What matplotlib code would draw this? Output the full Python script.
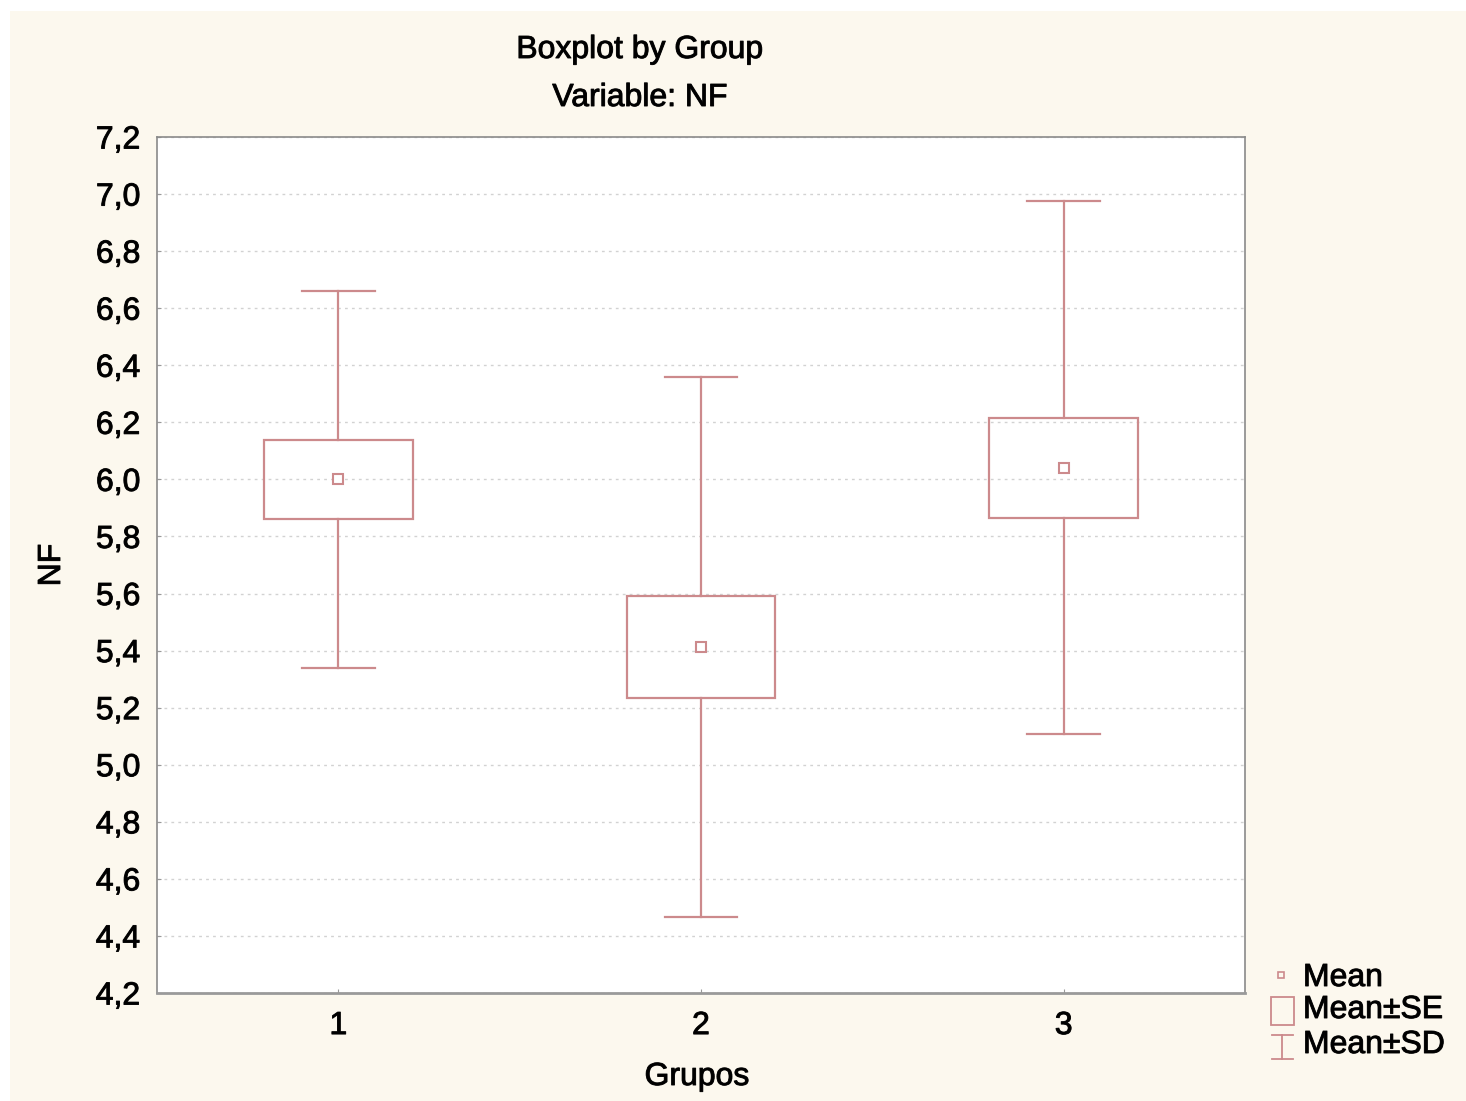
import numpy as np
import matplotlib
matplotlib.use('Agg')
from matplotlib import pyplot as plt
from matplotlib.patches import Rectangle
from matplotlib.ticker import FuncFormatter, MultipleLocator
import matplotlib.patheffects as pe

matplotlib.rcParams['font.family'] = ['Liberation Sans', 'DejaVu Sans']

# data
grupos = [1, 2, 3]
medias = [6.00, 5.413, 6.04]
se = [0.138, 0.179, 0.174]
sd = [0.662, 0.946, 0.934]

cor = '#cc8a8c'
fundo = '#fcf8ee'
fs = 23
# slight stroke to mimic the heavy, blurry text of the original
grosso = [pe.withStroke(linewidth=0.7, foreground='#111111')]

fig = plt.figure(figsize=(14.66, 11.01), dpi=100)
fig.patch.set_facecolor('white')

# cream panel (page is cut a bit at top/left)
bg = fig.add_axes([0, 0, 1, 1])
bg.set_xlim(0, 1466)
bg.set_ylim(1101, 0)
bg.axis('off')
bg.add_patch(Rectangle((10, 11), 1456, 1090, facecolor=fundo, edgecolor='none'))

ax = fig.add_axes([157/1466, 1 - 993/1101, 1088/1466, 856/1101])
ax.set_facecolor('white')
ax.set_xlim(0.5, 3.5)
ax.set_ylim(4.2, 7.2)
ax.yaxis.set_major_locator(MultipleLocator(0.2))
ax.set_xticks(grupos)
ax.yaxis.set_major_formatter(FuncFormatter(lambda v, p: ('%.1f' % v).replace('.', ',')))
ax.grid(axis='y', color='#d2d2d2', linestyle=(0, (2, 3)), linewidth=1)
ax.set_axisbelow(True)
for s in ax.spines.values():
    s.set_color('#8a8a8a')
    s.set_linewidth(1.2)
ax.spines['bottom'].set_linewidth(2)
ax.spines['bottom'].set_color('#9a9a9a')
ax.tick_params(axis='both', direction='in', length=3, color='#999999', labelsize=fs)
ax.tick_params(axis='y', pad=12)
ax.tick_params(axis='x', pad=13)
for lb in ax.get_xticklabels() + ax.get_yticklabels():
    lb.set_path_effects(grosso)

caixa = 0.41
cap = 0.2
for g, m, e, d in zip(grupos, medias, se, sd):
    # whiskers mean +- sd
    ax.plot([g, g], [m + e, m + d], color=cor, lw=1.6)
    ax.plot([g, g], [m - e, m - d], color=cor, lw=1.6)
    ax.plot([g - cap/2, g + cap/2], [m + d, m + d], color=cor, lw=1.6)
    ax.plot([g - cap/2, g + cap/2], [m - d, m - d], color=cor, lw=1.6)
    # box mean +- se
    ax.add_patch(Rectangle((g - caixa/2, m - e), caixa, 2*e, facecolor='none',
                           edgecolor=cor, lw=1.6))
    ax.plot(g, m, marker='s', ms=7, mfc='white', mec=cor, mew=1.5)

ax.set_xlabel('Grupos', fontsize=fs, path_effects=grosso)
ax.set_ylabel('NF', fontsize=fs, path_effects=grosso)
ax.xaxis.set_label_coords((697 - 157)/1088, (993 - 1077)/856)
ax.yaxis.set_label_coords((52 - 157)/1088, (993 - 565)/856)
ax.xaxis.label.set_va('center')
ax.yaxis.label.set_va('center')

fig.text(640/1466, 1 - 50/1101, 'Boxplot by Group', ha='center', va='center',
         fontsize=fs, path_effects=grosso)
fig.text(640/1466, 1 - 98/1101, 'Variable: NF', ha='center', va='center',
         fontsize=fs, path_effects=grosso)

# legend
bg.plot(1281, 975, marker='s', ms=5, mfc='none', mec=cor, mew=1.2)
bg.add_patch(Rectangle((1271, 997), 23, 28, facecolor='none', edgecolor=cor, lw=1.3))
bg.plot([1282, 1282], [1035, 1059], color=cor, lw=1.3)
bg.plot([1272, 1293], [1035, 1035], color=cor, lw=1.3)
bg.plot([1272, 1293], [1059, 1059], color=cor, lw=1.3)
for y, t in zip([978, 1010, 1045], ['Mean', 'Mean±SE', 'Mean±SD']):
    bg.text(1303, y, t, fontsize=fs, va='center', ha='left', path_effects=grosso)

fig.savefig('out.png', dpi=100, facecolor=fig.get_facecolor())
